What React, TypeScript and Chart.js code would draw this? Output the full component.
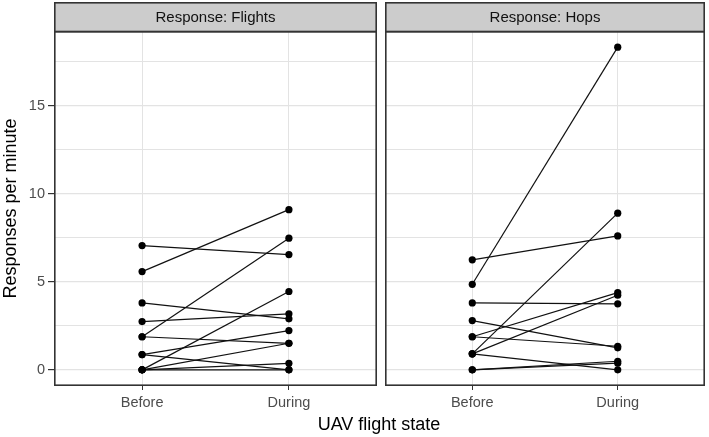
import React, { useEffect, useRef } from 'react';
import { Chart, registerables } from 'chart.js';
Chart.register(...registerables);

// ---- data ----
const categories = ['Before', 'During'];
const panelTitles = ['Response: Flights', 'Response: Hops'];
const flightsBefore = [7.06, 5.58, 3.8, 2.74, 1.88, 1.88, 0.87, 0.87, 0, 0, 0, 0];
const flightsDuring = [6.55, 9.1, 2.9, 3.18, 7.48, 1.51, 2.23, 0, 4.45, 1.51, 0.37, 0];
const hopsBefore = [6.25, 4.86, 3.8, 2.8, 1.88, 1.88, 0.91, 0.91, 0.91, 0, 0];
const hopsDuring = [7.61, 18.33, 3.75, 1.25, 4.39, 1.34, 8.9, 4.24, 0, 0.49, 0.38];
const yMajorTicks = [0, 5, 10, 15];
const yMinorTicks = [2.5, 7.5, 12.5, 17.5];
const yAxisTitle = 'Responses per minute';
const xAxisTitle = 'UAV flight state';

const FONT = "'Liberation Sans', Arial, Helvetica, sans-serif";
const W = 709;
const H = 437;

const allVals = [...flightsBefore, ...flightsDuring, ...hopsBefore, ...hopsDuring];
const dMin = Math.min(...allVals);
const dMax = Math.max(...allVals);
const yPad = (dMax - dMin) * 0.05;
const Y_MIN = dMin - yPad;
const Y_MAX = dMax + yPad;

function makeDatasets(before: number[], during: number[]) {
  return before.map((b, i) => ({
    data: [
      { x: 1, y: b },
      { x: 2, y: during[i] },
    ],
    borderColor: '#111111',
    backgroundColor: '#000000',
    borderWidth: 1.2,
    pointRadius: 3.6,
    pointBorderWidth: 0,
    pointBackgroundColor: '#000000',
    tension: 0,
  }));
}

function panelPlugin(title: string, drawXTitle: boolean) {
  return {
    id: 'panelDeco' + title,
    afterDraw(chart: any) {
      const { ctx, chartArea: a } = chart;
      ctx.save();
      // strip
      const stripTop = 2;
      ctx.fillStyle = '#cccccc';
      ctx.fillRect(a.left, stripTop, a.right - a.left, a.top - stripTop);
      ctx.strokeStyle = '#333333';
      ctx.lineWidth = 1.6;
      ctx.strokeRect(a.left + 0.8, stripTop + 0.8, a.right - a.left - 1.6, a.top - stripTop);
      ctx.fillStyle = '#111111';
      ctx.font = `15px ${FONT}`;
      ctx.textAlign = 'center';
      ctx.textBaseline = 'middle';
      ctx.fillText(title, (a.left + a.right) / 2, (stripTop + a.top) / 2 + 1);
      // panel border
      ctx.strokeRect(a.left + 0.8, a.top + 0.5, a.right - a.left - 1.6, a.bottom - a.top - 1.3);
      if (drawXTitle) {
        ctx.fillStyle = '#000000';
        ctx.font = `18px ${FONT}`;
        ctx.textAlign = 'center';
        ctx.textBaseline = 'middle';
        ctx.fillText(xAxisTitle, 379, 425);
      }
      ctx.restore();
    },
  };
}

function makeConfig(before: number[], during: number[], title: string, isLeft: boolean): any {
  return {
    type: 'line',
    data: { datasets: makeDatasets(before, during) },
    options: {
      responsive: false,
      animation: false,
      events: [],
      layout: {
        padding: isLeft
          ? { top: 31, right: W - 377, left: 0, bottom: 0 }
          : { top: 31, right: 1, left: 385, bottom: 0 },
      },
      plugins: { legend: { display: false }, tooltip: { enabled: false } },
      scales: {
        x: {
          type: 'linear',
          min: 0.4,
          max: 2.6,
          afterBuildTicks: (s: any) => {
            s.ticks = categories.map((_, i) => ({ value: i + 1 }));
          },
          afterFit: (s: any) => {
            s.height = H - 386;
          },
          border: { display: false },
          grid: { color: '#e3e3e3', lineWidth: 1, tickLength: 4, tickColor: '#333333' },
          ticks: {
            color: '#4d4d4d',
            font: { family: FONT, size: 14.5 },
            padding: 4,
            maxRotation: 0,
            callback: (v: any) => categories[Math.round(v) - 1] ?? '',
          },
        },
        y: {
          type: 'linear',
          min: Y_MIN,
          max: Y_MAX,
          afterBuildTicks: (s: any) => {
            s.ticks = [...yMajorTicks, ...yMinorTicks]
              .sort((p, q) => p - q)
              .map((v) => ({ value: v }));
          },
          afterFit: (s: any) => {
            s.width = isLeft ? 54 : 0;
          },
          border: { display: false },
          title: isLeft
            ? {
                display: true,
                text: yAxisTitle,
                color: '#000000',
                font: { family: FONT, size: 18 },
                padding: 0,
              }
            : { display: false },
          grid: {
            color: '#e3e3e3',
            lineWidth: (c: any) => (c.tick && yMajorTicks.includes(c.tick.value) ? 1.2 : 1),
            drawTicks: isLeft,
            tickLength: 6,
            tickColor: (c: any) =>
              c.tick && yMajorTicks.includes(c.tick.value) ? '#333333' : 'rgba(0,0,0,0)',
          },
          ticks: {
            display: isLeft,
            color: '#4d4d4d',
            font: { family: FONT, size: 14.5 },
            padding: 3,
            callback: (v: any) => (yMajorTicks.includes(v) ? String(v) : ''),
          },
        },
      },
    },
    plugins: [panelPlugin(title, isLeft)],
  };
}

export default function App() {
  const leftRef = useRef<HTMLCanvasElement>(null);
  const rightRef = useRef<HTMLCanvasElement>(null);

  useEffect(() => {
    const c1 = new Chart(leftRef.current!, makeConfig(flightsBefore, flightsDuring, panelTitles[0], true));
    const c2 = new Chart(rightRef.current!, makeConfig(hopsBefore, hopsDuring, panelTitles[1], false));
    return () => {
      c1.destroy();
      c2.destroy();
    };
  }, []);

  const canvasStyle: React.CSSProperties = {
    position: 'absolute',
    left: 0,
    top: 0,
    width: W,
    height: H,
  };

  return (
    <div style={{ position: 'fixed', left: 0, top: 0, width: W, height: H, background: '#ffffff' }}>
      <canvas ref={leftRef} width={W} height={H} style={canvasStyle} />
      <canvas ref={rightRef} width={W} height={H} style={{ ...canvasStyle, pointerEvents: 'none' }} />
    </div>
  );
}
